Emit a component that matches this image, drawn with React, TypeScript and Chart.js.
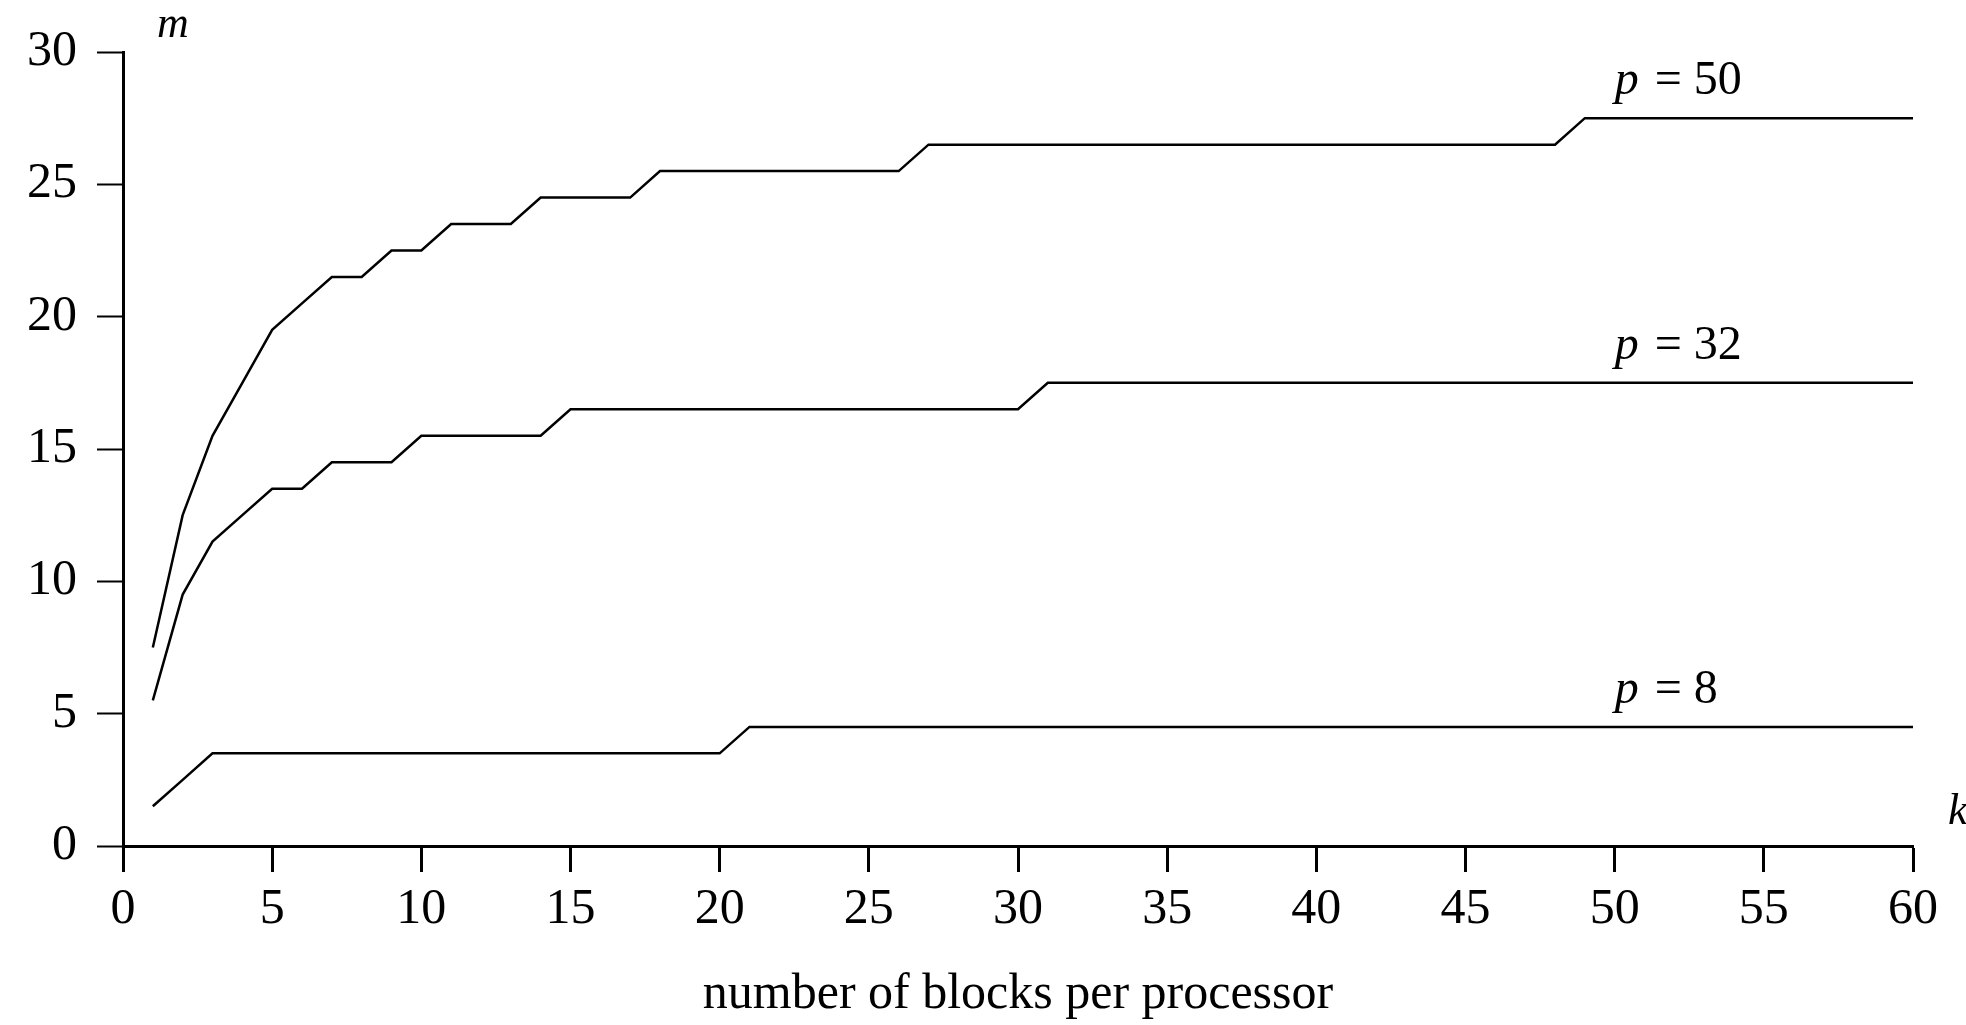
import React, { useEffect, useRef } from "react";
import { Chart, registerables } from "chart.js";

Chart.register(...registerables);

const FONT = '"Liberation Serif", "DejaVu Serif", serif';

// k = number of blocks per processor
const kValues = [
  1, 2, 3, 4, 5, 6, 7, 8, 9, 10,
  11, 12, 13, 14, 15, 16, 17, 18, 19, 20,
  21, 22, 23, 24, 25, 26, 27, 28, 29, 30,
  31, 32, 33, 34, 35, 36, 37, 38, 39, 40,
  41, 42, 43, 44, 45, 46, 47, 48, 49, 50,
  51, 52, 53, 54, 55, 56, 57, 58, 59, 60,
];

const p50 = [
  7.5, 12.5, 15.5, 17.5, 19.5, 20.5, 21.5, 21.5, 22.5, 22.5,
  23.5, 23.5, 23.5, 24.5, 24.5, 24.5, 24.5, 25.5, 25.5, 25.5,
  25.5, 25.5, 25.5, 25.5, 25.5, 25.5, 26.5, 26.5, 26.5, 26.5,
  26.5, 26.5, 26.5, 26.5, 26.5, 26.5, 26.5, 26.5, 26.5, 26.5,
  26.5, 26.5, 26.5, 26.5, 26.5, 26.5, 26.5, 26.5, 27.5, 27.5,
  27.5, 27.5, 27.5, 27.5, 27.5, 27.5, 27.5, 27.5, 27.5, 27.5,
];

const p32 = [
  5.5, 9.5, 11.5, 12.5, 13.5, 13.5, 14.5, 14.5, 14.5, 15.5,
  15.5, 15.5, 15.5, 15.5, 16.5, 16.5, 16.5, 16.5, 16.5, 16.5,
  16.5, 16.5, 16.5, 16.5, 16.5, 16.5, 16.5, 16.5, 16.5, 16.5,
  17.5, 17.5, 17.5, 17.5, 17.5, 17.5, 17.5, 17.5, 17.5, 17.5,
  17.5, 17.5, 17.5, 17.5, 17.5, 17.5, 17.5, 17.5, 17.5, 17.5,
  17.5, 17.5, 17.5, 17.5, 17.5, 17.5, 17.5, 17.5, 17.5, 17.5,
];

const p8 = [
  1.5, 2.5, 3.5, 3.5, 3.5, 3.5, 3.5, 3.5, 3.5, 3.5,
  3.5, 3.5, 3.5, 3.5, 3.5, 3.5, 3.5, 3.5, 3.5, 3.5,
  4.5, 4.5, 4.5, 4.5, 4.5, 4.5, 4.5, 4.5, 4.5, 4.5,
  4.5, 4.5, 4.5, 4.5, 4.5, 4.5, 4.5, 4.5, 4.5, 4.5,
  4.5, 4.5, 4.5, 4.5, 4.5, 4.5, 4.5, 4.5, 4.5, 4.5,
  4.5, 4.5, 4.5, 4.5, 4.5, 4.5, 4.5, 4.5, 4.5, 4.5,
];

const seriesValues = [p50, p32, p8];
const seriesNames = ["50", "32", "8"];
const labelK = 50;

const xTitle = "number of blocks per processor";
const yName = "m";
const xName = "k";

const W = 1966;
const H = 1025;

const labelPlugin = {
  id: "curveLabels",
  afterDraw(chart: any) {
    const { ctx } = chart;
    const x = chart.scales.x;
    const y = chart.scales.y;
    ctx.save();
    ctx.fillStyle = "#000";
    ctx.textBaseline = "alphabetic";
    ctx.textAlign = "left";
    seriesValues.forEach((vals, i) => {
      const last = vals[vals.length - 1];
      const px = x.getPixelForValue(labelK);
      const py = y.getPixelForValue(last) - 24;
      ctx.font = `italic 48px ${FONT}`;
      ctx.fillText("p", px, py);
      const w = ctx.measureText("p").width;
      ctx.font = `48px ${FONT}`;
      ctx.fillText(` = ${seriesNames[i]}`, px + w + 4, py);
    });
    ctx.font = `italic 44px ${FONT}`;
    ctx.fillText(yName, x.getPixelForValue(0) + 34, y.getPixelForValue(30) - 15);
    ctx.fillText(xName, x.getPixelForValue(60) + 35, y.getPixelForValue(0) - 22);
    ctx.restore();
  },
};

export default function App() {
  const ref = useRef<HTMLCanvasElement | null>(null);
  useEffect(() => {
    if (!ref.current) return;
    const chart = new Chart(ref.current, {
      type: "line",
      data: {
        datasets: seriesValues.map((vals, i) => ({
          label: `p = ${seriesNames[i]}`,
          data: vals.map((v, j) => ({ x: kValues[j], y: v })),
          borderColor: "#000",
          borderWidth: 2.5,
          pointRadius: 0,
          tension: 0,
          fill: false,
        })),
      },
      options: {
        animation: false,
        responsive: false,
        devicePixelRatio: 1,
        layout: { padding: { top: 52, right: 53, bottom: 0, left: 0 } },
        plugins: {
          legend: { display: false },
          tooltip: { enabled: false },
        },
        scales: {
          x: {
            type: "linear",
            min: 0,
            max: 60,
            ticks: {
              stepSize: 5,
              color: "#000",
              font: { family: FONT, size: 50 },
              padding: 8,
              maxRotation: 0,
              autoSkip: false,
            },
            grid: {
              drawOnChartArea: false,
              drawTicks: true,
              tickLength: 26,
              tickWidth: 3,
              tickColor: "#000",
            },
            border: { display: true, color: "#000", width: 3 },
            title: {
              display: true,
              text: xTitle,
              color: "#000",
              font: { family: FONT, size: 50 },
              padding: { top: 0, bottom: 0 },
            },
            afterFit: (s: any) => {
              s.height = H - 846;
            },
          },
          y: {
            type: "linear",
            min: 0,
            max: 30,
            ticks: {
              stepSize: 5,
              color: "#000",
              font: { family: FONT, size: 50 },
              padding: 20,
            },
            grid: {
              drawOnChartArea: false,
              drawTicks: true,
              tickLength: 26,
              tickWidth: 2,
              tickColor: "#000",
            },
            border: { display: true, color: "#000", width: 3 },
            afterFit: (s: any) => {
              s.width = 123;
            },
          },
        },
      },
      plugins: [labelPlugin],
    });
    return () => chart.destroy();
  }, []);

  return (
    <div style={{ position: "fixed", left: 0, top: 0, width: W, height: H, background: "#fff" }}>
      <canvas ref={ref} width={W} height={H} style={{ width: W, height: H, display: "block" }} />
    </div>
  );
}
